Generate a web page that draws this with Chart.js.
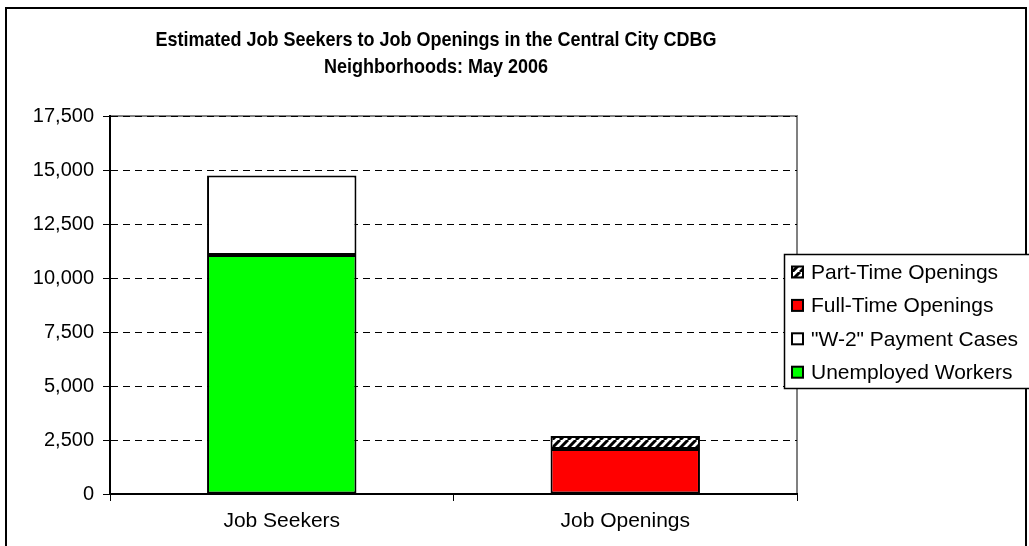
<!DOCTYPE html>
<html>
<head>
<meta charset="utf-8">
<script src="https://cdn.jsdelivr.net/npm/chart.js@4"></script>
<style>
    html, body { margin: 0; padding: 0; background: #fff; }
    canvas { display: block; }
</style>
</head>
<body>
<canvas id="jobsChart" width="1029" height="546"></canvas>
<script>
const categories = ['Job Seekers', 'Job Openings']
const unemployedWorkers = [11060, null]
const w2PaymentCases = [3680, null]
const fullTimeOpenings = [null, 2080]
const partTimeOpenings = [null, 600]
const yTicks = [0, 2500, 5000, 7500, 10000, 12500, 15000, 17500]
const titleLines = [
    'Estimated Job Seekers to Job Openings in the Central City CDBG',
    'Neighborhoods: May 2006',
]

const FONT = '"Liberation Sans", Arial, sans-serif'

function makeHatch() {
    const c = document.createElement('canvas')
    c.width = 8
    c.height = 8
    const g = c.getContext('2d')
    g.fillStyle = '#fff'
    g.fillRect(0, 0, 8, 8)
    g.strokeStyle = '#000'
    g.lineWidth = 3
    g.beginPath()
    for (let k = -8; k <= 16; k += 8) {
        g.moveTo(k, 8)
        g.lineTo(k + 8, 0)
    }
    g.stroke()
    return g.createPattern(c, 'repeat')
}

// gray plot frame + outer border, drawn under the grid
const framePlugin = {
    id: 'frame',
    beforeDraw(chart) {
        const { ctx, chartArea } = chart
        ctx.save()
        ctx.strokeStyle = '#000'
        ctx.lineWidth = 2
        ctx.strokeRect(6, 8, 1020, 560)
        ctx.strokeStyle = '#808080'
        ctx.lineWidth = 2
        ctx.beginPath()
        ctx.moveTo(chartArea.left, chartArea.top)
        ctx.lineTo(chartArea.right, chartArea.top)
        ctx.lineTo(chartArea.right, chartArea.bottom)
        ctx.stroke()
        ctx.restore()
    },
}

const titlePlugin = {
    id: 'twoLineTitle',
    afterDraw(chart) {
        const ctx = chart.ctx
        ctx.save()
        ctx.fillStyle = '#000'
        ctx.font = `bold 18px ${FONT}`
        ctx.textAlign = 'center'
        ctx.textBaseline = 'middle'
        titleLines.forEach((line, i) => {
            ctx.save()
            ctx.translate(436, 40 + i * 27)
            ctx.scale(1, 1.15)
            ctx.fillText(line, 0, 0)
            ctx.restore()
        })
        ctx.restore()
    },
}

// legend box overlapping the plot edge, items in reverse order
const legendPlugin = {
    id: 'boxLegend',
    afterDraw(chart) {
        const ctx = chart.ctx
        const left = 784
        const top = 254
        const bottom = 388
        ctx.save()
        ctx.fillStyle = '#fff'
        ctx.fillRect(left, top, 260, bottom - top)
        ctx.strokeStyle = '#000'
        ctx.lineWidth = 1.5
        ctx.strokeRect(left + 0.5, top + 0.5, 260, bottom - top)
        ctx.font = `21px ${FONT}`
        ctx.textBaseline = 'middle'
        const sets = chart.data.datasets.slice().reverse()
        sets.forEach((ds, i) => {
            const y = 272 + i * 33.4
            ctx.fillStyle = ds.backgroundColor
            ctx.fillRect(792, y - 5.5, 11, 11)
            ctx.strokeStyle = '#000'
            ctx.lineWidth = 2
            ctx.strokeRect(792, y - 5.5, 11, 11)
            ctx.fillStyle = '#000'
            ctx.fillText(ds.label, 811, y + 1)
        })
        ctx.restore()
    },
}

const hatch = makeHatch()

const barStyle = {
    borderColor: '#000',
    borderWidth: 2,
    borderSkipped: false,
    categoryPercentage: 1,
    barPercentage: 0.435,
}

const ctx = document.getElementById('jobsChart').getContext('2d')
const chart = new Chart(ctx, {
    type: 'bar',
    data: {
        labels: categories,
        datasets: [
            { label: 'Unemployed Workers', data: unemployedWorkers, backgroundColor: '#00ff00', ...barStyle },
            { label: '"W-2" Payment Cases', data: w2PaymentCases, backgroundColor: '#ffffff', ...barStyle },
            { label: 'Full-Time Openings', data: fullTimeOpenings, backgroundColor: '#ff0000', ...barStyle },
            { label: 'Part-Time Openings', data: partTimeOpenings, backgroundColor: hatch, ...barStyle },
        ],
    },
    options: {
        responsive: false,
        animation: false,
        devicePixelRatio: 1,
        layout: {
            padding: { top: 116, right: 232, bottom: 0, left: 0 },
        },
        plugins: {
            legend: { display: false },
            title: { display: false },
            tooltip: { enabled: false },
        },
        scales: {
            x: {
                stacked: true,
                afterFit: (scale) => { scale.height = 52 },
                grid: {
                    display: true,
                    drawOnChartArea: false,
                    offset: true,
                    tickLength: 7,
                    color: '#000',
                },
                border: { display: true, color: '#000', width: 2 },
                ticks: {
                    color: '#000',
                    padding: 8,
                    font: { family: FONT, size: 21 },
                },
            },
            y: {
                stacked: true,
                min: 0,
                max: 17500,
                afterFit: (scale) => { scale.width = 110 },
                afterBuildTicks: (scale) => {
                    scale.ticks = yTicks.map((v) => ({ value: v }))
                },
                grid: {
                    color: '#000',
                    lineWidth: 1,
                    tickLength: 7,
                    tickBorderDash: [],
                },
                border: { display: true, color: '#000', width: 2, dash: [7, 5] },
                ticks: {
                    color: '#000',
                    padding: 9,
                    font: { family: FONT, size: 20 },
                    callback: (v) => v.toLocaleString('en-US'),
                },
            },
        },
    },
    plugins: [framePlugin, titlePlugin, legendPlugin],
})
</script>
</body>
</html>
